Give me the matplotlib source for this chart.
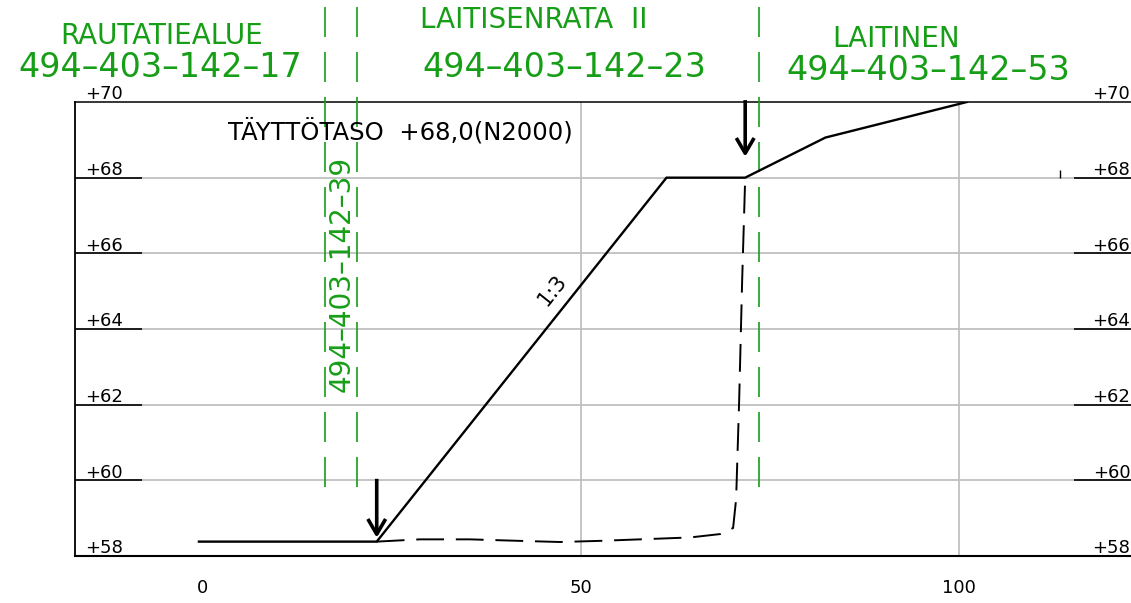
import matplotlib
matplotlib.use('Agg')
import matplotlib.pyplot as plt
import numpy as np

plt.rcParams['font.family'] = ['DejaVu Sans']
plt.rcParams['lines.scale_dashes'] = False

# ---------------- data ----------------
levels = [58, 60, 62, 64, 66, 68, 70]
level_labels = ['+58', '+60', '+62', '+64', '+66', '+68', '+70']
grid_levels = [60, 62, 64, 66, 68]
x_ticks = [0, 50, 100]
x_tick_labels = ['0', '50', '100']

# planned (fill) surface, solid
planned_x = [-0.5, 23.0, 61.3, 71.7, 82.3, 101.0]
planned_y = [58.38, 58.38, 68.0, 68.0, 69.06, 70.0]

# existing ground, dashed
existing_x = [23.0, 28.7, 35.3, 41.9, 47.2, 52.5, 59.1, 64.4, 68.4, 70.1, 70.5, 70.9, 71.3, 71.7]
existing_y = [58.38, 58.44, 58.44, 58.40, 58.37, 58.40, 58.45, 58.49, 58.58, 58.74, 59.5, 62.1, 65.3, 68.0]

# property boundaries (green dashed)
boundary_x = [16.2, 20.4, 73.5]
boundary_bottom = 59.83
boundary_top = 72.6

# arrows
arrow_x = [23.0, 71.7]
arrow_from = [60.04, 70.05]
arrow_to = [58.48, 68.55]

# small mark
mark_x = [113.3]
mark_y0, mark_y1 = 68.0, 68.2

area_names = ['RAUTATIEALUE', 'LAITISENRATA  II', 'LAITINEN']
area_ids = ['494–403–142–17', '494–403–142–23', '494–403–142–53']
vertical_id = '494–403–142–39'
fill_text = 'TÄYTTÖTASO  +68,0(N2000)'
slope_text = '1:3'

# ---------------- layout ----------------
W, H = 1131, 603
fig = plt.figure(figsize=(W / 100, H / 100), dpi=100)
ax = fig.add_axes([75 / W, 47 / H, 1056 / W, 454 / H])
x0, x1 = -16.878, 122.69
ax.set_xlim(x0, x1)
ax.set_ylim(58, 70)

green = '#179e17'
gray = '#c0c0c0'

# grid
ax.hlines(grid_levels, x0, x1, colors=gray, lw=1.3, zorder=1)
ax.vlines([50, 100], 58, 70, colors=gray, lw=1.3, zorder=1)
# black side ticks
ax.hlines(grid_levels, x0, -8.0, colors='black', lw=1.2, zorder=2)
ax.hlines(grid_levels, 115.2, x1, colors='black', lw=1.2, zorder=2)
ax.vlines(mark_x, mark_y0, mark_y1, colors='black', lw=1.0, zorder=2)

# spines
ax.spines['right'].set_visible(False)
ax.spines['left'].set_linewidth(1.3)
ax.spines['bottom'].set_linewidth(1.5)
ax.spines['top'].set_linewidth(1.1)

# ticks
ax.set_yticks([])
ax.set_xticks(x_ticks, x_tick_labels)
ax.tick_params(axis='x', length=0, pad=16.5, labelsize=13)

# level labels
for lv, lab in zip(levels, level_labels):
    ax.annotate(lab, xy=(10 / 1056, lv), xycoords=('axes fraction', 'data'),
                xytext=(0, 2.0), textcoords='offset points', ha='left',
                va='baseline', fontsize=13)
    ax.annotate(lab, xy=(1.0, lv), xycoords=('axes fraction', 'data'),
                xytext=(-0.5, 2.0), textcoords='offset points', ha='right',
                va='baseline', fontsize=13)

# profile lines
ax.plot(planned_x, planned_y, color='black', lw=1.7, zorder=4,
        solid_joinstyle='miter')
ax.plot(existing_x, existing_y, color='black', lw=1.4, zorder=4,
        linestyle=(0, (20, 8.5)))

# green boundaries
ax.vlines(boundary_x, boundary_bottom, boundary_top, colors=green, lw=1.2,
          linestyles=[(0, (21.6, 10.8))], clip_on=False, zorder=3)

# arrows
for xa, ya, yb in zip(arrow_x, arrow_from, arrow_to):
    ax.annotate('', xy=(xa, yb), xytext=(xa, ya),
                arrowprops=dict(arrowstyle='->,head_length=0.55,head_width=0.32',
                                lw=2.6, color='black', shrinkA=0, shrinkB=0,
                                mutation_scale=20, joinstyle='round',
                                capstyle='butt'), zorder=5)

# area titles
name_pos = [(-5.45, 71.54), (43.79, 71.96), (91.63, 71.46)]
id_pos = [(-5.58, 70.66), (47.75, 70.66), (95.86, 70.58)]
for name, (xn, yn) in zip(area_names, name_pos):
    ax.text(xn, yn, name, color=green, fontsize=20, ha='center', va='baseline')
for ident, (xi, yi) in zip(area_ids, id_pos):
    ax.text(xi, yi, ident, color=green, fontsize=24, ha='center', va='baseline')

ax.text((342 - 202.7) / 7.566, 58 + (556 - 274) / 37.81, vertical_id,
        color=green, fontsize=20, rotation=90, ha='center', va='center')

ax.text((228 - 202.7) / 7.566, 58 + (556 - 140) / 37.81, fill_text,
        color='black', fontsize=17.5, ha='left', va='baseline')

# slope label, rotated along the slope
p1 = ax.transData.transform((planned_x[1], planned_y[1]))
p2 = ax.transData.transform((planned_x[2], planned_y[2]))
ang = np.degrees(np.arctan2(p2[1] - p1[1], p2[0] - p1[0]))
ax.text(46.2, 65.03, slope_text, fontsize=15, rotation=ang,
        rotation_mode='anchor', ha='center', va='center')

fig.savefig('out.png', dpi=100)
